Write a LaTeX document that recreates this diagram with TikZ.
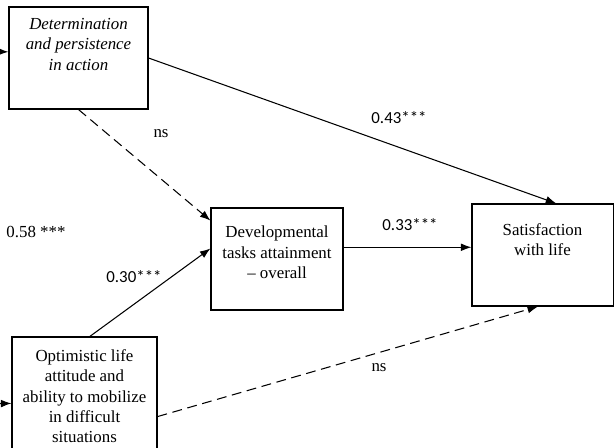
\documentclass[tikz,border=0pt]{standalone}
\usepackage{fontspec}
\setmainfont{Liberation Serif}
\newfontfamily\calibri{Carlito}
\usetikzlibrary{arrows.meta}
\begin{document}
\begin{tikzpicture}[x=0.025cm,y=-0.025cm,line width=0.75pt,>={Latex[length=7.5pt,width=5.5pt]},
  every node/.style={font=\fontsize{12}{14.5}\selectfont},
  box/.style={draw,rectangle,inner sep=0pt},
  boxtext/.style={anchor=north,align=center,inner sep=0pt},
  num/.style={font=\fontsize{12}{14.5}\selectfont\calibri},
  nsdash/.style={dash pattern=on 7pt off 4pt}]
\useasboundingbox (0,0) rectangle (615,447);
% boxes
\node(det) at (78.5,58) [box,minimum width=3.475cm,minimum height=2.55cm] {};
\node(opt) at (84.5,397) [box,minimum width=3.625cm,minimum height=3cm] {};
\node(dev) at (277,259) [box,minimum width=3.3cm,minimum height=2.55cm] {};
\node(sat) at (542.5,255) [box,minimum width=3.525cm,minimum height=2.55cm] {};
\node(dett) at (det.north) [boxtext,yshift=-8pt,font=\fontsize{12}{14.5}\selectfont\itshape] {Determination\\ and persistence\\ in action};
\node(optt) at (opt.north) [boxtext,yshift=-8.8pt] {Optimistic life\\ attitude and\\ ability to mobilize\\ in difficult\\ situations};
\node(devt) at (dev.north) [boxtext,yshift=-12.8pt] {Developmental\\ tasks attainment\\ -- overall};
\node(satt) at (sat.north) [boxtext,yshift=-14pt] {Satisfaction\\ with life};
% labels
\node(l43) at (399,118) [num] {0.43***};
\node(ns1) at (161,134) [] {ns};
\node(l58) at (36,232) [] {0.58 ***};
\node(l33) at (410,225) [num] {0.33***};
\node(l30) at (134,277) [num] {0.30***};
\node(ns2) at (379,368) [] {ns};
% paths
\draw[->] (det.east) -- (sat.75);
\draw[->,nsdash] (det.south) -- (dev.150);
\draw[->] (opt.85) -- (dev.171);
\draw[->] (dev.10) -- (dev.10 -| sat.west);
\draw[->,nsdash] (opt.-15) -- (sat.-95);
\draw[<->] (det.175) .. controls (-90,50) and (-90,405) .. (opt.185);
\end{tikzpicture}
\end{document}
